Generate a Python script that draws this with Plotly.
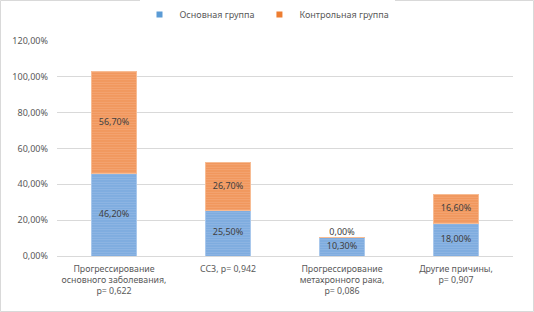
import plotly.graph_objects as go

categories = [
    "Прогрессирование<br>основного заболевания,<br>p= 0,622",
    "ССЗ, p= 0,942",
    "Прогрессирование<br>метахронного рака,<br>p= 0,086",
    "Другие причины,<br>p= 0,907",
]
main_group = [46.2, 25.5, 10.3, 18.0]
control_group = [56.7, 26.7, 0.0, 16.6]
series_names = ["Основная группа", "Контрольная группа"]
tick_vals = [0, 20, 40, 60, 80, 100, 120]

def fmt(v):
    return f"{v:.2f}".replace(".", ",") + "%"

BLUE = "#7AA8DD"
BLUE_L = "#A9C8EC"
ORANGE = "#F09358"
ORANGE_L = "#F7BC94"
FONT = "Noto Sans"
LABEL_C = "#404040"

fig = go.Figure()
for vals, name, c, cl in [(main_group, series_names[0], BLUE, BLUE_L),
                          (control_group, series_names[1], ORANGE, ORANGE_L)]:
    fig.add_trace(go.Bar(
        x=categories, y=vals, name=name, showlegend=False,
        marker=dict(color=c, line=dict(color=cl, width=1),
                    pattern=dict(shape="-", fgcolor=cl, bgcolor=c, size=2.5, solidity=0.45)),
        width=0.4, hoverinfo="y",
    ))

# legend entries (small square markers)
for name, c in [(series_names[0], "#5B9BD5"), (series_names[1], "#ED7D31")]:
    fig.add_trace(go.Scatter(
        x=[None], y=[None], mode="markers", name=name,
        marker=dict(symbol="square", size=6, color=c),
    ))

# data labels at segment centers
fig.add_trace(go.Scatter(
    x=categories, y=[v / 2 for v in main_group], mode="text",
    text=[fmt(v) for v in main_group], showlegend=False, hoverinfo="skip",
    textfont=dict(family=FONT, size=9, color=LABEL_C),
))
fig.add_trace(go.Scatter(
    x=categories, y=[m + c / 2 for m, c in zip(main_group, control_group)], mode="text",
    text=[fmt(v) for v in control_group], showlegend=False, hoverinfo="skip",
    textfont=dict(family=FONT, size=9, color=LABEL_C),
    textposition=["middle center", "middle center", "top center", "middle center"],
))

W, H = 534, 312
ml, mr, mt, mb = 57, 21, 41, 56
pw, ph = W - ml - mr, H - mt - mb

fig.update_layout(
    width=W, height=H,
    barmode="stack",
    separators=", ",
    paper_bgcolor="white", plot_bgcolor="white",
    margin=dict(l=ml, r=mr, t=mt, b=mb, pad=0, autoexpand=False),
    font=dict(family=FONT, size=9, color="#595959"),
    legend=dict(orientation="h", x=0.5, xanchor="center", xref="container",
                y=1.0, yanchor="top", yref="container",
                font=dict(family=FONT, size=9, color="#595959"),
                itemwidth=30, traceorder="normal", tracegroupgap=0),
    xaxis=dict(showgrid=False, showline=True, linecolor="#D9D9D9", linewidth=1,
               ticks="", automargin=False, range=[-0.5, 3.5], ticklabelstandoff=4,
               tickfont=dict(family=FONT, size=8.8, color="#595959")),
    yaxis=dict(range=[0, 120], tickvals=tick_vals, ticktext=[fmt(v) for v in tick_vals],
               showgrid=True, gridcolor="#D9D9D9", gridwidth=1, zeroline=False,
               showline=False, ticks="", ticklabelstandoff=8, automargin=False,
               tickfont=dict(family=FONT, size=9, color="#595959")),
    shapes=[dict(type="rect", xref="paper", yref="paper",
                 x0=(0.5 - ml) / pw, x1=(W - 0.5 - ml) / pw,
                 y0=-(mb - 0.5) / ph, y1=1 + (mt - 0.5) / ph,
                 line=dict(color="#D9D9D9", width=1), layer="below")],
)

fig.write_html("out.html", config={"displayModeBar": False},
               post_script="document.body.style.margin='0';document.body.style.overflow='hidden';")
